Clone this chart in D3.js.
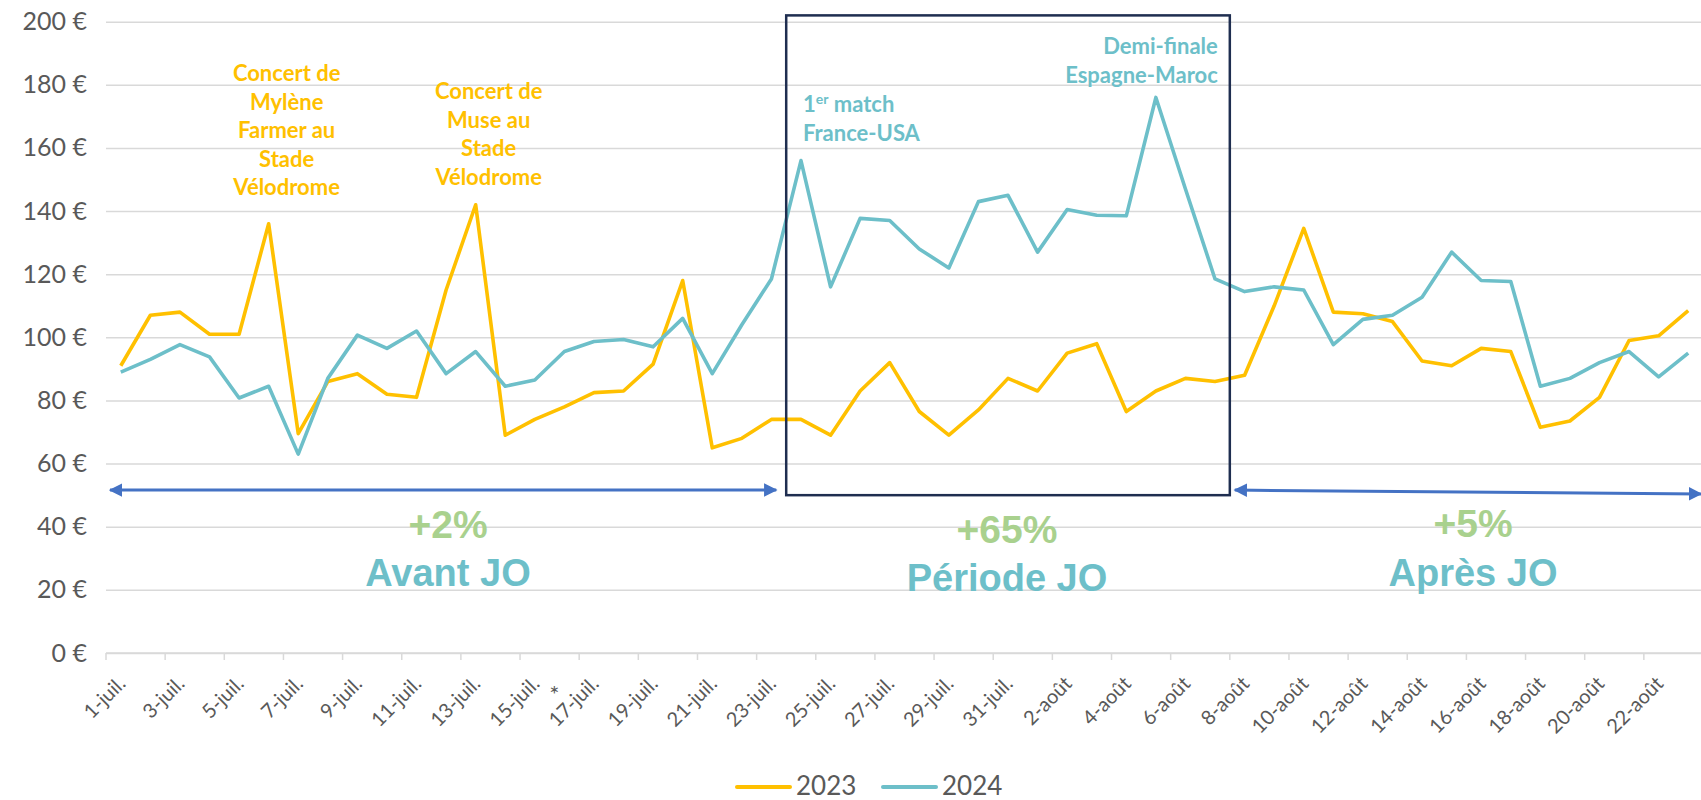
<!DOCTYPE html>
<html>
<head>
<meta charset="utf-8">
<script src="https://cdn.jsdelivr.net/npm/d3@7"></script>
<style>
  body { margin: 0; background: #fff; }
  svg { display: block; font-family: Lato, "Open Sans", sans-serif; }
</style>
</head>
<body>
<svg id="chart" width="1701" height="800"></svg>
<script>
let days = ["1-juil.", "2-juil.", "3-juil.", "4-juil.", "5-juil.", "6-juil.", "7-juil.", "8-juil.", "9-juil.", "10-juil.",
  "11-juil.", "12-juil.", "13-juil.", "14-juil.", "15-juil.", "16-juil.", "17-juil.", "18-juil.", "19-juil.", "20-juil.",
  "21-juil.", "22-juil.", "23-juil.", "24-juil.", "25-juil.", "26-juil.", "27-juil.", "28-juil.", "29-juil.", "30-juil.",
  "31-juil.", "1-août", "2-août", "3-août", "4-août", "5-août", "6-août", "7-août", "8-août", "9-août",
  "10-août", "11-août", "12-août", "13-août", "14-août", "15-août", "16-août", "17-août", "18-août", "19-août",
  "20-août", "21-août", "22-août", "23-août"];

let values2023 = [91, 107, 108, 101, 101, 136, 69.5, 86, 88.5, 82,
  81, 115, 142, 69, 74, 78, 82.5, 83, 91.5, 118,
  65, 68, 74, 74, 69, 83, 92, 76.5, 69, 77,
  87, 83, 95, 98, 76.5, 83, 87, 86, 88, 110,
  134.5, 108, 107.5, 105, 92.5, 91, 96.5, 95.5, 71.5, 73.5,
  81, 99, 100.5, 108.5];

let values2024 = [89, 93, 97.7, 93.8, 80.8, 84.5, 63, 87, 100.7, 96.5,
  102, 88.5, 95.5, 84.5, 86.5, 95.5, 98.7, 99.3, 97, 106,
  88.5, 104, 118.5, 156, 116, 137.7, 137, 128, 122, 143,
  145, 127, 140.5, 138.7, 138.5, 176, 147, 118.5, 114.5, 116,
  115, 97.7, 105.7, 107, 112.7, 127, 118, 117.7, 84.5, 87,
  92, 95.5, 87.5, 95];

let yTicks = [0, 20, 40, 60, 80, 100, 120, 140, 160, 180, 200];
let seriesNames = ["2023", "2024"];
let periodLabels = ["Avant JO", "Période JO", "Après JO"];
let periodChanges = ["+2%", "+65%", "+5%"];

let colors = { "2023": "#FFC000", "2024": "#6DBFC9" };

let svg = d3.select("#chart");

let xScale = d3.scaleBand().domain(days).range([106, 1703]).paddingInner(0).paddingOuter(0);
let yScale = d3.scaleLinear().domain([0, 200]).range([653, 21.7]);
let bw = xScale.bandwidth();
let cx = function(d) { return xScale(d) + bw / 2; };

// horizontal grid + y labels
let yAxis = d3.axisLeft(yScale)
  .tickValues(yTicks)
  .tickSize(-(1701 - 106))
  .tickPadding(19)
  .tickFormat(function(d) { return d + " €"; });

let gy = svg.append("g")
  .attr("transform", "translate(106,0)")
  .call(yAxis);
gy.select(".domain").remove();
gy.selectAll("line").attr("stroke", "#D9D9D9").attr("stroke-width", 1.5);
gy.selectAll("text")
  .attr("fill", "#595959")
  .style("font-size", "25px")
  .style("font-family", "Lato, sans-serif");

// x axis: ticks between categories, every 2
let tickDays = days.filter(function(d, i) { return i % 2 === 0; });
let gx = svg.append("g");
gx.append("line")
  .attr("x1", 106).attr("x2", 1701)
  .attr("y1", yScale(0)).attr("y2", yScale(0))
  .attr("stroke", "#D9D9D9").attr("stroke-width", 1.5);
gx.selectAll(".tick")
  .data(tickDays)
  .enter().append("line")
  .attr("x1", function(d) { return xScale(d); })
  .attr("x2", function(d) { return xScale(d); })
  .attr("y1", yScale(0)).attr("y2", yScale(0) + 7)
  .attr("stroke", "#D9D9D9").attr("stroke-width", 1.5);
gx.selectAll(".lbl")
  .data(tickDays)
  .enter().append("text")
  .attr("transform", function(d) { return "translate(" + (cx(d) + 6) + "," + (yScale(0) + 32) + ") rotate(-45)"; })
  .attr("text-anchor", "end")
  .attr("fill", "#595959")
  .style("font-size", "20px")
  .text(function(d) { return d; });
gx.append("text")
  .attr("x", xScale("16-juil.") + bw / 2 - 10)
  .attr("y", yScale(0) + 50)
  .attr("text-anchor", "middle")
  .attr("fill", "#595959")
  .style("font-size", "24px")
  .text("*");

// lines
let line = d3.line()
  .x(function(d, i) { return cx(days[i]); })
  .y(function(d) { return yScale(d); });

[values2023, values2024].forEach(function(vals, k) {
  svg.append("path")
    .attr("d", line(vals))
    .attr("fill", "none")
    .attr("stroke", colors[seriesNames[k]])
    .attr("stroke-width", 3.6)
    .attr("stroke-linejoin", "round");
});

// JO box
let boxX0 = xScale("24-juil.");
let boxX1 = xScale("8-août");
svg.append("rect")
  .attr("x", boxX0).attr("y", yScale(202))
  .attr("width", boxX1 - boxX0)
  .attr("height", yScale(50) - yScale(202))
  .attr("fill", "none")
  .attr("stroke", "#1F2E50")
  .attr("stroke-width", 2.5);

// arrows
let defs = svg.append("defs");
defs.append("marker")
  .attr("id", "head")
  .attr("viewBox", "0 0 10 10")
  .attr("refX", 9).attr("refY", 5)
  .attr("markerWidth", 4.5).attr("markerHeight", 4.5)
  .attr("markerUnits", "strokeWidth")
  .attr("orient", "auto-start-reverse")
  .append("path")
  .attr("d", "M0,0L10,5L0,10Z")
  .attr("fill", "#4472C4");

let arrows = [
  [xScale(days[0]) + 4, boxX0 - 10, 51.6, 51.6],
  [boxX1 + 5, 1701, 51.6, 50.4]
];
arrows.forEach(function(a) {
  svg.append("line")
    .attr("x1", a[0]).attr("x2", a[1])
    .attr("y1", yScale(a[2])).attr("y2", yScale(a[3]))
    .attr("stroke", "#4472C4")
    .attr("stroke-width", 3)
    .attr("marker-start", "url(#head)")
    .attr("marker-end", "url(#head)");
});

// period labels
let periodX = [448, 1007, 1473];
let changeY = [538, 543, 537];
let labelY = [586, 591, 586];
periodLabels.forEach(function(p, i) {
  svg.append("text")
    .attr("x", periodX[i]).attr("y", changeY[i])
    .attr("text-anchor", "middle")
    .attr("fill", "#A9D18E")
    .style("font-family", "'Liberation Sans', Arial, sans-serif")
    .style("font-weight", "bold")
    .style("font-size", "39px")
    .text(periodChanges[i]);
  svg.append("text")
    .attr("x", periodX[i]).attr("y", labelY[i])
    .attr("text-anchor", "middle")
    .attr("fill", "#6DBFC9")
    .style("font-family", "'Liberation Sans', Arial, sans-serif")
    .style("font-weight", "bold")
    .style("font-size", "38px")
    .text(p);
});

// event annotations
function note(lines, x, y0, anchor, color) {
  let t = svg.append("text")
    .attr("text-anchor", anchor)
    .attr("fill", color)
    .style("font-weight", "bold")
    .style("font-size", "22px");
  lines.forEach(function(l, i) {
    t.append("tspan").attr("x", x).attr("y", y0 + i * 28.6).text(l);
  });
  return t;
}
note(["Concert de", "Mylène", "Farmer au", "Stade", "Vélodrome"], cx("6-juil.") + 18, 81, "middle", "#FFC000");
note(["Concert de", "Muse au", "Stade", "Vélodrome"], cx("13-juil.") + 13, 99, "middle", "#FFC000");
note(["Demi-finale", "Espagne-Maroc"], boxX1 - 12, 54, "end", "#6DBFC9");

let first = svg.append("text")
  .attr("fill", "#6DBFC9")
  .style("font-weight", "bold")
  .style("font-size", "22px");
first.append("tspan").attr("x", cx("24-juil.") + 2).attr("y", 112).text("1");
first.append("tspan").attr("dy", -8).style("font-size", "14px").text("er");
first.append("tspan").attr("dy", 8).text(" match");
first.append("tspan").attr("x", cx("24-juil.") + 2).attr("y", 140.6).text("France-USA");

// legend
let legendX = [737, 883];
seriesNames.forEach(function(s, i) {
  let g = svg.append("g").attr("transform", "translate(" + legendX[i] + ",787)");
  g.append("line")
    .attr("x1", 0).attr("x2", 53)
    .attr("stroke", colors[s]).attr("stroke-width", 4)
    .attr("stroke-linecap", "round");
  g.append("text")
    .attr("x", 59).attr("y", 8)
    .attr("fill", "#595959")
    .style("font-size", "26px")
    .text(s);
});
</script>
</body>
</html>
